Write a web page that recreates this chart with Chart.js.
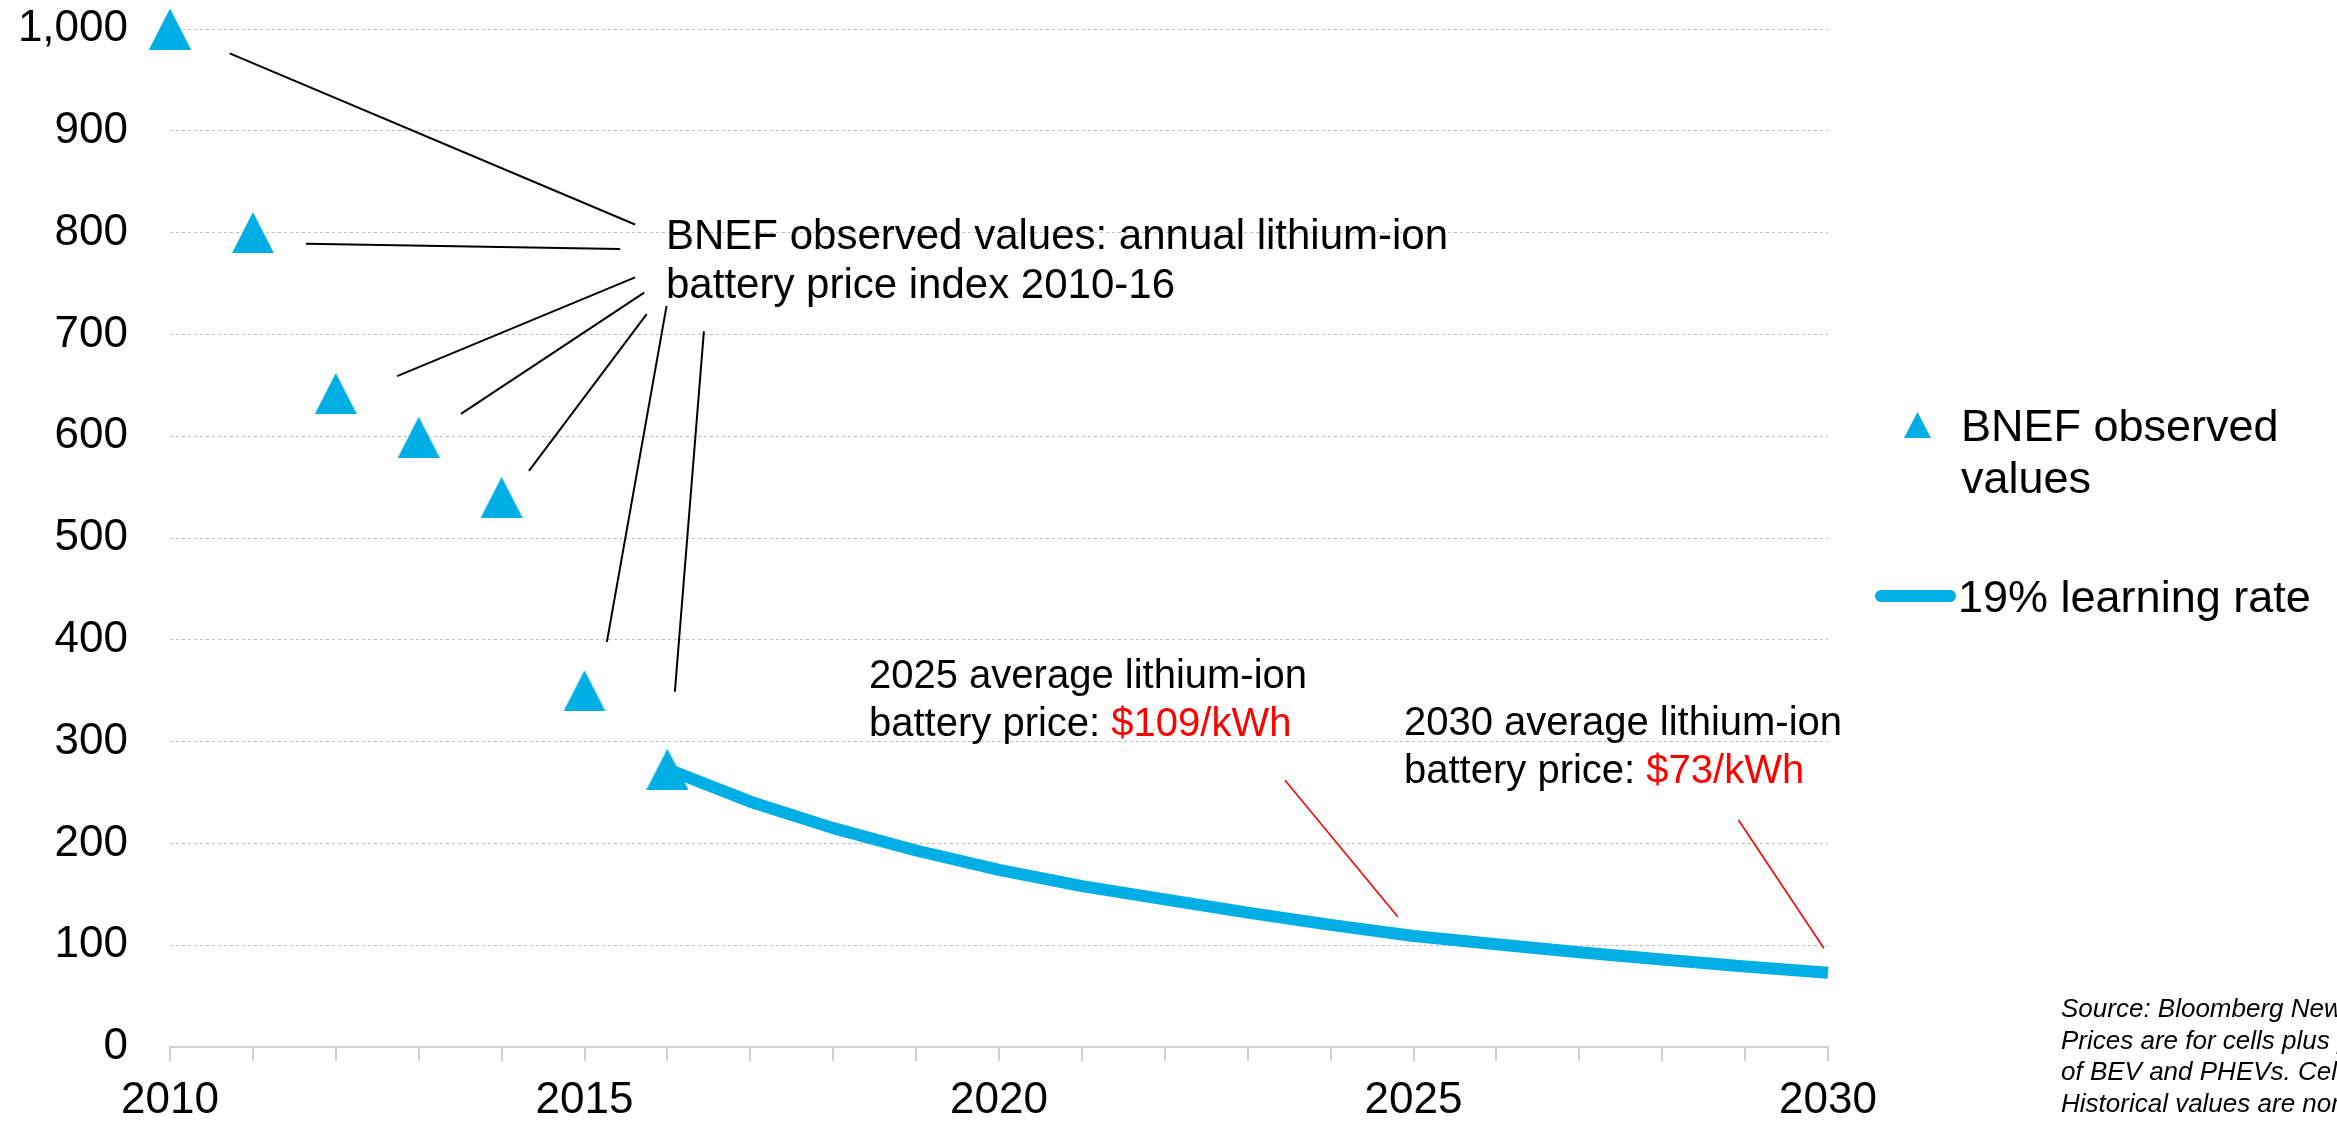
<!DOCTYPE html>
<html>
<head>
<meta charset="utf-8">
<script src="https://cdn.jsdelivr.net/npm/chart.js@4.4.1/dist/chart.umd.min.js"></script>
<style>
  html, body { margin: 0; padding: 0; background: #fff; overflow: hidden; }
  #wrap { width: 2337px; height: 1123px; position: relative; }
</style>
</head>
<body>
<div id="wrap"><canvas id="priceChart"></canvas></div>
<script>
// BNEF observed battery pack prices ($/kWh)
const obsYears = [2010, 2011, 2012, 2013, 2014, 2015, 2016];
const obsPrices = [1000, 800, 642, 599, 540, 350, 273];

// 19% learning rate outlook
const curveYears = [2016, 2017, 2018, 2019, 2020, 2021, 2022, 2023, 2024, 2025, 2026, 2027, 2028, 2029, 2030];
const curvePrices = [273, 241, 215, 193, 174, 158, 145, 132, 120, 109, 101, 93, 86, 79, 73];

// axes
const yTickValues = [0, 100, 200, 300, 400, 500, 600, 700, 800, 900, 1000];
const xTickYears = [2010, 2011, 2012, 2013, 2014, 2015, 2016, 2017, 2018, 2019, 2020,
                    2021, 2022, 2023, 2024, 2025, 2026, 2027, 2028, 2029, 2030];
const xLabelYears = [2010, 2015, 2020, 2025, 2030];

const BLUE = '#00AEE6';
const FONT = '"Liberation Sans", Arial, Helvetica, sans-serif';

function triangleCanvas(w, h, color) {
    const c = document.createElement('canvas');
    c.width = w;
    c.height = h;
    const g = c.getContext('2d');
    g.fillStyle = color;
    g.beginPath();
    g.moveTo(w / 2, 0);
    g.lineTo(w, h);
    g.lineTo(0, h);
    g.closePath();
    g.fill();
    return c;
}

const bigTriangle = triangleCanvas(42, 41, BLUE);
const smallTriangle = triangleCanvas(27, 26, BLUE);

// callout leader lines, in data units: [x1, y1, x2, y2]
const blackLeaders = [
    [2010.72, 976, 2015.61, 808],
    [2011.64, 789, 2015.43, 784],
    [2012.74, 659, 2015.61, 756],
    [2013.51, 622, 2015.72, 741],
    [2014.33, 566, 2015.75, 720],
    [2015.99, 728, 2015.27, 398],
    [2016.44, 703, 2016.09, 349]
];
const redLeaders = [
    [2023.45, 262, 2024.81, 128],
    [2028.92, 223, 2029.95, 97]
];

const annotationPlugin = {
    id: 'annotations',
    afterDraw(chart) {
        const ctx = chart.ctx;
        const xs = chart.scales.x;
        const ys = chart.scales.y;
        const px = v => xs.getPixelForValue(v);
        const py = v => ys.getPixelForValue(v);

        ctx.save();
        ctx.lineCap = 'butt';
        ctx.lineWidth = 2;
        ctx.strokeStyle = '#000';
        blackLeaders.forEach(l => {
            ctx.beginPath();
            ctx.moveTo(px(l[0]), py(l[1]));
            ctx.lineTo(px(l[2]), py(l[3]));
            ctx.stroke();
        });
        ctx.strokeStyle = '#FF0000';
        ctx.lineWidth = 1.6;
        redLeaders.forEach(l => {
            ctx.beginPath();
            ctx.moveTo(px(l[0]), py(l[1]));
            ctx.lineTo(px(l[2]), py(l[3]));
            ctx.stroke();
        });

        // text callouts
        ctx.textBaseline = 'alphabetic';
        ctx.textAlign = 'left';
        ctx.fillStyle = '#000';
        ctx.font = '42px ' + FONT;
        ctx.fillText('BNEF observed values: annual lithium-ion', 666, 249);
        ctx.fillText('battery price index 2010-16', 666, 298);

        ctx.font = '40px ' + FONT;
        function priceNote(x, y, year, price) {
            ctx.fillStyle = '#000';
            ctx.fillText(year + ' average lithium-ion', x, y);
            const lead = 'battery price: ';
            ctx.fillText(lead, x, y + 48);
            ctx.fillStyle = '#FF0000';
            ctx.fillText(price, x + ctx.measureText(lead).width, y + 48);
        }
        priceNote(869, 688, '2025', '$109/kWh');
        priceNote(1404, 735, '2030', '$73/kWh');

        // legend
        ctx.drawImage(smallTriangle, 1904, 412);
        ctx.fillStyle = '#000';
        ctx.font = '45px ' + FONT;
        ctx.fillText('BNEF observed', 1961, 441);
        ctx.fillText('values', 1961, 493);
        ctx.strokeStyle = BLUE;
        ctx.lineWidth = 12;
        ctx.lineCap = 'round';
        ctx.beginPath();
        ctx.moveTo(1881, 596);
        ctx.lineTo(1950, 596);
        ctx.stroke();
        ctx.fillText('19% learning rate', 1958, 612);

        // source note
        ctx.font = 'italic 26px ' + FONT;
        const src = [
            'Source: Bloomberg New Energy Finance. Note:',
            'Prices are for cells plus pack, and reflect an average',
            'of BEV and PHEVs. Cell prices are not shown.',
            'Historical values are nominal; future values are',
            'in real 2016 US dollars.'
        ];
        src.forEach((t, i) => ctx.fillText(t, 2061, 1017 + i * 31.5));
        ctx.restore();
    }
};

new Chart(document.getElementById('priceChart'), {
    type: 'scatter',
    data: {
        datasets: [
            {
                label: 'BNEF observed values',
                data: obsYears.map((x, i) => ({ x: x, y: obsPrices[i] })),
                pointStyle: bigTriangle,
                pointRadius: 21,
                showLine: false,
                clip: false
            },
            {
                label: '19% learning rate',
                data: curveYears.map((x, i) => ({ x: x, y: curvePrices[i] })),
                showLine: true,
                borderColor: BLUE,
                borderWidth: 12,
                borderCapStyle: 'butt',
                borderJoinStyle: 'round',
                pointRadius: 0,
                tension: 0,
                clip: false
            }
        ]
    },
    options: {
        responsive: true,
        maintainAspectRatio: false,
        animation: false,
        layout: { padding: { top: 29, right: 509, left: 0, bottom: 0 } },
        plugins: {
            legend: { display: false },
            tooltip: { enabled: false }
        },
        scales: {
            x: {
                type: 'linear',
                min: 2010,
                max: 2030,
                afterBuildTicks: s => { s.ticks = xTickYears.map(v => ({ value: v })); },
                afterFit: s => { s.height = 76; },
                ticks: {
                    autoSkip: false,
                    maxRotation: 0,
                    padding: 13,
                    color: '#000',
                    font: { family: FONT, size: 44 },
                    callback: v => xLabelYears.includes(v) ? String(v) : ''
                },
                grid: {
                    drawOnChartArea: false,
                    drawTicks: true,
                    tickLength: 14,
                    color: '#d0d0d0',
                    lineWidth: 2
                },
                border: { display: true, color: '#d0d0d0', width: 2 }
            },
            y: {
                min: 0,
                max: 1000,
                afterBuildTicks: s => { s.ticks = yTickValues.map(v => ({ value: v })); },
                afterFit: s => { s.width = 170; },
                ticks: {
                    padding: 0,
                    color: '#000',
                    font: { family: FONT, size: 44 },
                    callback: v => v.toLocaleString('en-US')
                },
                grid: {
                    drawTicks: true,
                    tickLength: 42,
                    tickColor: 'rgba(0,0,0,0)',
                    color: '#bdbdbd',
                    lineWidth: 1
                },
                border: { display: false, dash: [3, 3] }
            }
        }
    },
    plugins: [annotationPlugin]
});
</script>
</body>
</html>
